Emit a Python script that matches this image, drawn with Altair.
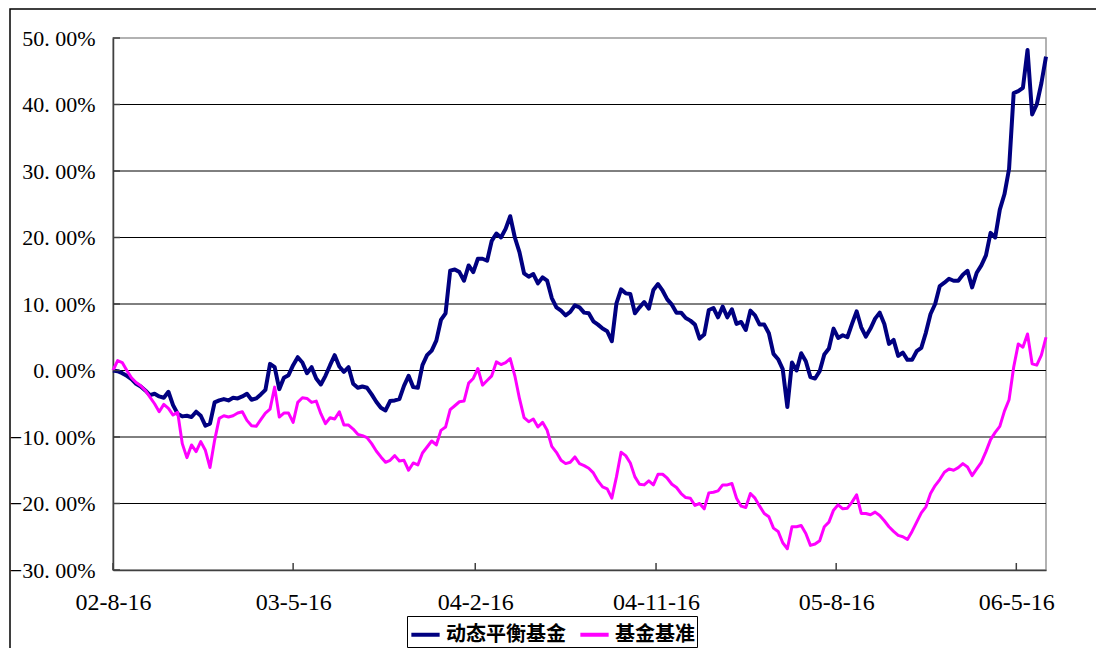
import altair as alt
import pandas as pd

# ---- data (weekly readings) ----
start_date = "2002-08-16"
end_date = "2006-06-30"
week_dates = pd.date_range(start_date, end_date, freq="7D")

fund = [
    0.0, -0.1, -0.4, -0.8, -1.3, -2.0, -2.4, -3.0, -3.7, -3.5,
    -3.9, -4.1, -3.2, -5.2, -6.5, -6.9, -6.8, -7.0, -6.2, -6.8,
    -8.3, -8.0, -4.8, -4.5, -4.3, -4.5, -4.1, -4.2, -3.9, -3.5,
    -4.4, -4.2, -3.6, -2.9, 1.0, 0.5, -2.8, -1.1, -0.7, 0.8,
    2.0, 1.2, -0.4, 0.5, -1.2, -2.1, -0.8, 0.8, 2.3, 0.6,
    -0.2, 0.5, -2.0, -2.6, -2.4, -2.6, -3.6, -4.7, -5.6, -6.0,
    -4.6, -4.5, -4.3, -2.3, -0.8, -2.5, -2.6, 0.8, 2.3, 3.0,
    4.5, 7.6, 8.6, 15.0, 15.2, 14.8, 13.5, 15.8, 14.8, 16.8,
    16.8, 16.5, 19.5, 20.6, 20.0, 21.3, 23.2, 20.0, 17.8, 14.6,
    14.1, 14.5, 13.1, 14.0, 13.5, 10.9, 9.5, 9.0, 8.3, 8.8,
    9.8, 9.5, 8.7, 8.6, 7.4, 6.9, 6.3, 5.9, 4.4, 10.1,
    12.2, 11.6, 11.5, 8.6, 9.5, 10.3, 9.3, 12.1, 13.0, 12.0,
    10.7, 9.9, 8.7, 8.7, 7.9, 7.5, 6.9, 4.8, 5.4, 9.1,
    9.4, 8.0, 9.6, 8.0, 9.2, 7.0, 7.3, 6.1, 9.0, 8.3,
    6.9, 6.9, 5.6, 2.5, 1.7, 0.2, -5.5, 1.2, 0.0, 2.6,
    1.4, -1.0, -1.2, -0.1, 2.4, 3.3, 6.3, 4.9, 5.3, 5.0,
    7.0, 8.9, 6.5, 5.1, 6.3, 7.8, 8.7, 7.0, 4.0, 4.6,
    2.2, 2.7, 1.6, 1.6, 2.9, 3.4, 5.7, 8.5, 10.0, 12.7,
    13.2, 13.8, 13.5, 13.5, 14.4, 15.0, 12.5, 14.7, 15.8, 17.3,
    20.7, 20.0, 24.2, 26.5, 30.3, 41.7, 42.0, 42.5, 48.2, 38.5,
    40.0, 43.2, 47.2,
]

bench = [
    0.0, 1.5, 1.2, 0.0, -1.1, -1.8, -2.3, -3.0, -4.0, -5.0,
    -6.2, -5.1, -5.7, -6.7, -6.3, -11.0, -13.1, -11.2, -12.2, -10.7,
    -12.0, -14.6, -10.5, -7.2, -6.8, -7.0, -6.8, -6.4, -6.2, -7.5,
    -8.3, -8.4, -7.4, -6.4, -5.8, -2.5, -7.0, -6.4, -6.4, -7.8,
    -4.8, -4.1, -4.2, -4.8, -4.6, -6.5, -8.0, -7.1, -7.3, -6.2,
    -8.2, -8.2, -8.8, -9.6, -9.8, -10.1, -11.0, -12.1, -13.0, -13.8,
    -13.5, -12.8, -13.6, -13.5, -15.0, -13.9, -14.2, -12.4, -11.5, -10.6,
    -11.2, -9.0, -8.5, -5.9, -5.3, -4.7, -4.6, -1.9, -1.2, 0.3,
    -2.2, -1.5, -0.8, 1.3, 0.9, 1.2, 1.8, -0.8, -4.2, -7.1,
    -7.7, -7.3, -8.5, -7.8, -9.0, -11.4, -12.3, -13.5, -14.0, -13.8,
    -13.0, -14.0, -14.3, -14.7, -15.4, -16.6, -17.5, -17.8, -19.2, -16.0,
    -12.3, -12.8, -13.9, -16.0, -17.1, -17.2, -16.6, -17.2, -15.6, -15.6,
    -16.2, -17.1, -17.6, -18.5, -19.1, -19.2, -20.3, -20.0, -20.8, -18.4,
    -18.3, -18.1, -17.2, -17.2, -17.0, -19.2, -20.4, -20.6, -18.5, -19.2,
    -20.4, -21.5, -22.0, -23.7, -24.2, -25.9, -26.8, -23.5, -23.5, -23.3,
    -24.5, -26.3, -26.1, -25.6, -23.5, -22.8, -21.0, -20.2, -20.8, -20.7,
    -19.8, -18.7, -21.5, -21.5, -21.7, -21.3, -21.8, -22.6, -23.5, -24.2,
    -24.8, -25.0, -25.4, -24.2, -22.8, -21.4, -20.5, -18.5, -17.3, -16.4,
    -15.3, -14.8, -15.0, -14.6, -14.0, -14.5, -15.8, -14.8, -13.8, -12.2,
    -10.4, -9.3, -8.4, -6.1, -4.4, 0.5, 4.0, 3.5, 5.5, 1.0,
    0.8, 2.3, 5.0,
]

series_names = ["动态平衡基金", "基金基准"]
series_colors = ["#000080", "#FF00FF"]
tick_labels_dates = [(2002, 8, 16), (2003, 5, 16), (2004, 2, 16),
                     (2004, 11, 16), (2005, 8, 16), (2006, 5, 16)]
y_ticks = [-30, -20, -10, 0, 10, 20, 30, 40, 50]
y_grid = [-20, -10, 0, 10, 20, 30, 40]

# ---- tables ----
df_fund = pd.DataFrame({"date": week_dates, "value": fund, "series": series_names[0]})
df_bench = pd.DataFrame({"date": week_dates, "value": bench, "series": series_names[1]})
tick_df = pd.DataFrame({"date": [pd.Timestamp(y, m, d) for (y, m, d) in tick_labels_dates]})
ytick_df = pd.DataFrame({"value": y_ticks})
grid_df = pd.DataFrame({"value": y_grid})

W, H = 933, 532
x_dom = [alt.DateTime(year=2002, month=8, date=16), alt.DateTime(year=2006, month=6, date=30)]
x_scale = alt.Scale(domain=x_dom)
y_scale = alt.Scale(domain=[-30, 50], nice=False, zero=False)

x_axis = alt.Axis(
    values=[alt.DateTime(year=y, month=m, date=d) for (y, m, d) in tick_labels_dates],
    labelExpr="timeFormat(datum.value, '%y-%-m-%d')",
    grid=False, ticks=False, title=None,
    domainColor="#404040", domainWidth=1.5,
    labelFont="Liberation Serif", labelFontSize=24, labelColor="#000000",
    labelPadding=20, labelFlush=False,
)
y_axis = alt.Axis(
    values=y_ticks,
    labelExpr="replace(format(datum.value, '.2f'), '.', '. ') + '%'",
    grid=False, ticks=False, title=None,
    domainColor="#404040", domainWidth=1.5,
    labelFont="Liberation Serif", labelFontSize=22, labelColor="#000000",
    labelPadding=18,
)

color_enc = alt.Color(
    "series:N",
    scale=alt.Scale(domain=series_names, range=series_colors),
    legend=alt.Legend(
        title=None, orient="none", legendX=294, legendY=578,
        direction="horizontal", columns=2,
        strokeColor="#000000", padding=2, fillColor="#ffffff",
        labelFont="Noto Sans CJK SC", labelFontSize=20, labelFontWeight="bold",
        labelColor="#000000", labelOffset=4, columnPadding=6,
        symbolType="stroke", symbolStrokeWidth=4, symbolSize=800,
    ),
)

X_enc = alt.X("date:T", scale=x_scale, axis=x_axis)
Y_enc = alt.Y("value:Q", scale=y_scale, axis=y_axis)

frame = alt.Chart(alt.Data(values=[{}])).mark_rect(
    fill="#ffffff", fillOpacity=0, stroke="#000000", strokeWidth=1.5
).encode(
    x=alt.value(-103), x2=alt.value(1000), y=alt.value(-29), y2=alt.value(650)
)

grid = alt.Chart(grid_df).mark_rule(color="#000000", strokeWidth=1).encode(y=Y_enc)

yticks = alt.Chart(ytick_df).mark_rule(color="#404040", strokeWidth=1.5).encode(
    y=Y_enc, x=alt.value(0), x2=alt.value(7)
)

xticks = alt.Chart(tick_df).mark_rule(color="#404040", strokeWidth=1.5).encode(
    x=X_enc, y=alt.value(H - 7), y2=alt.value(H)
)

line_fund = alt.Chart(df_fund).mark_line(strokeWidth=4, strokeJoin="round").encode(
    x=X_enc, y=Y_enc, color=color_enc,
)
line_bench = alt.Chart(df_bench).mark_line(strokeWidth=3, strokeJoin="round").encode(
    x=X_enc, y=Y_enc, color=color_enc,
)

chart = alt.layer(frame, grid, line_fund, line_bench, xticks, yticks).properties(
    width=W, height=H,
    padding={"left": 113, "top": 38, "right": 50, "bottom": 78},
    autosize=alt.AutoSizeParams(type="none"),
    background="#ffffff",
).configure_view(stroke="#999999", strokeWidth=1.5)

chart.save("out.html", embed_options={"renderer": "svg", "actions": False})
